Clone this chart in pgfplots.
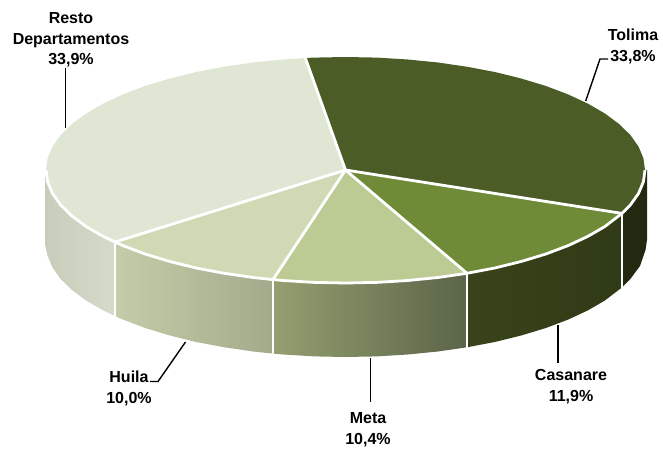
\documentclass[border=0pt]{standalone}
\usepackage{fontspec}
\setmainfont{Liberation Sans}
\usepackage{pgfplots}
\pgfplotsset{compat=1.18}

\definecolor{tolima}{HTML}{4B5C27}
\definecolor{casanare}{HTML}{6F8B38}
\definecolor{meta}{HTML}{BBCB93}
\definecolor{huila}{HTML}{CFDAB5}
\definecolor{resto}{HTML}{DFE6D4}

\newcommand{\lbl}[3]{\node[align=center,font=\fontsize{16}{20.5}\selectfont\bfseries,inner sep=0pt] at (axis cs:#1,#2) {#3};}

\begin{document}
\begin{tikzpicture}
\begin{axis}[x=1pt, y=1pt, y dir=reverse,
             xmin=0, xmax=663, ymin=0, ymax=449,
             hide axis, clip=false, scale only axis]

  % side walls
  \addplot[draw=none, fill={rgb,255:red,34;green,41;blue,16}] coordinates {
    (622,213.4)(630.4,204.9)(638.5,193.5)(643.4,181.8)(645,170)(647,170)(647,240)(645.5,250)
    (640,266)(630.4,278.9)(622,287.4)
  };
  \addplot[draw=none, left color={rgb,255:red,56;green,67;blue,26}, right color={rgb,255:red,48;green,59;blue,23}] coordinates {
    (467,273.3)(495.3,267.9)(521.5,261.4)(545.9,254)(568.1,245.6)(587.8,236.4)(604.9,226.5)(622,213.4)
    (622,287.4)(604.9,300.5)(587.8,310.4)(568.1,319.6)(545.9,328)(521.5,335.4)(495.3,341.9)(467,347.3)
  };
  \addplot[draw=none, left color={rgb,255:red,149;green,159;blue,112}, right color={rgb,255:red,90;green,100;blue,72}] coordinates {
    (273,279.6)(283.2,280.5)(314.2,282.4)(345.5,283)(376.8,282.4)(407.8,280.5)(438,277.5)(467,273.3)
    (467,347.3)(438,351.5)(407.8,354.5)(376.8,356.4)(345.5,357)(314.2,356.4)(283.2,354.5)(273,353.6)
  };
  \addplot[draw=none, left color={rgb,255:red,196;green,205;blue,169}, right color={rgb,255:red,163;green,170;blue,139}] coordinates {
    (115,242)(122.9,245.6)(145.1,254)(169.5,261.4)(195.7,267.9)(223.7,273.2)(253,277.5)(273,279.6)
    (273,353.6)(253,351.5)(223.7,347.2)(195.7,341.9)(169.5,335.4)(145.1,328)(122.9,319.6)(115,316)
  };
  \addplot[draw=none, left color={rgb,255:red,200;green,205;blue,187}, right color={rgb,255:red,214;green,218;blue,200}] coordinates {
    (45,170)(47.6,181.8)(52.5,193.5)(60.6,204.9)(71.9,216)(86.1,226.5)(103.2,236.4)(115,242)
    (115,316)(103.2,310.4)(86.1,300.5)(71.9,290)(60.6,278.9)(52.5,267.5)(47.6,255.8)(45,244)
  };

  % separators on the walls
  \addplot[white, line width=2.4pt] coordinates {(115,242)(115,317)};
  \addplot[white, line width=2.4pt] coordinates {(273,280)(273,355)};
  \addplot[white, line width=2.4pt] coordinates {(467,273)(467,349)};
  \addplot[white, line width=2.4pt] coordinates {(622,213)(622,289)};

  % top faces
  \addplot[fill=tolima, draw=none] coordinates {
    (345.5,170)(305,58)(314.2,57.6)(345.5,57)(376.8,57.6)(407.8,59.5)(438,62.5)(467.3,66.8)(495.3,72.1)
    (521.5,78.6)(545.9,86)(568.1,94.4)(587.8,103.6)(604.9,113.5)(619.1,124)(630.4,135.1)(638.5,146.5)
    (643.4,158.2)(645,170)(643.4,181.8)(638.5,193.5)(630.4,204.9)(622,213.4)(345.5,170)
  };
  \addplot[fill=casanare, draw=none] coordinates {
    (345.5,170)(622,213.4)(604.9,226.5)(587.8,236.4)(568.1,245.6)(545.9,254)(521.5,261.4)(495.3,267.9)
    (467,273.3)(345.5,170)
  };
  \addplot[fill=meta, draw=none] coordinates {
    (345.5,170)(467,273.3)(438,277.5)(407.8,280.5)(376.8,282.4)(345.5,283)(314.2,282.4)(283.2,280.5)
    (273,279.6)(345.5,170)
  };
  \addplot[fill=huila, draw=none] coordinates {
    (345.5,170)(273,279.6)(253,277.5)(223.7,273.2)(195.7,267.9)(169.5,261.4)(145.1,254)(122.9,245.6)
    (115,242)(345.5,170)
  };
  \addplot[fill=resto, draw=none] coordinates {
    (345.5,170)(115,242)(103.2,236.4)(86.1,226.5)(71.9,216)(60.6,204.9)(52.5,193.5)(47.6,181.8)(46,170)
    (47.6,158.2)(52.5,146.5)(60.6,135.1)(71.9,124)(86.1,113.5)(103.2,103.6)(122.9,94.4)(145.1,86)
    (169.5,78.6)(195.7,72.1)(223.7,66.8)(253,62.5)(283.2,59.5)(305,58)(345.5,170)
  };

  % white rim along the front and the spokes
  \addplot[white, line width=2.8pt, line join=round] coordinates {
    (46,170)(47.6,181.8)(52.5,193.5)(60.6,204.9)(71.9,216)(86.1,226.5)(103.2,236.4)(115,242)
    (122.9,245.6)(145.1,254)(169.5,261.4)(195.7,267.9)(223.7,273.2)(253,277.5)(273,279.6)
    (283.2,280.5)(314.2,282.4)(345.5,283)(376.8,282.4)(407.8,280.5)(438,277.5)(467,273.3)
    (495.3,267.9)(521.5,261.4)(545.9,254)(568.1,245.6)(587.8,236.4)(604.9,226.5)(622,213.4)
    (630.4,204.9)(638.5,193.5)(643.4,181.8)(645,170)
  };
  \addplot[white, line width=2.8pt] coordinates {(305,57)(345.5,170)(622,213.4)};
  \addplot[white, line width=2.8pt] coordinates {(467,273.3)(345.5,170)(273,279.6)};
  \addplot[white, line width=2.8pt] coordinates {(345.5,170)(115,242)};

  % leader lines
  \addplot[black, line width=1.4pt] coordinates {(65.5,68)(65.5,128)};
  \addplot[black, line width=1.4pt] coordinates {(608,59)(600,59)(585.7,101)};
  \addplot[black, line width=1.4pt] coordinates {(150,381.5)(158,381.5)(185.5,342)};
  \addplot[black, line width=1.4pt] coordinates {(370.5,358)(370.5,402)};
  \addplot[black, line width=1.4pt] coordinates {(558,325)(558,363)};

  % labels
  \lbl{71}{40}{Resto\\Departamentos\\33,9\%}
  \lbl{633}{46.5}{Tolima\\33,8\%}
  \lbl{129}{388.5}{Huila\\10,0\%}
  \lbl{368}{429.5}{Meta\\10,4\%}
  \lbl{571}{386.5}{Casanare\\11,9\%}

  \path[use as bounding box] (axis cs:0,0) rectangle (axis cs:663,449);
\end{axis}
\end{tikzpicture}
\end{document}
